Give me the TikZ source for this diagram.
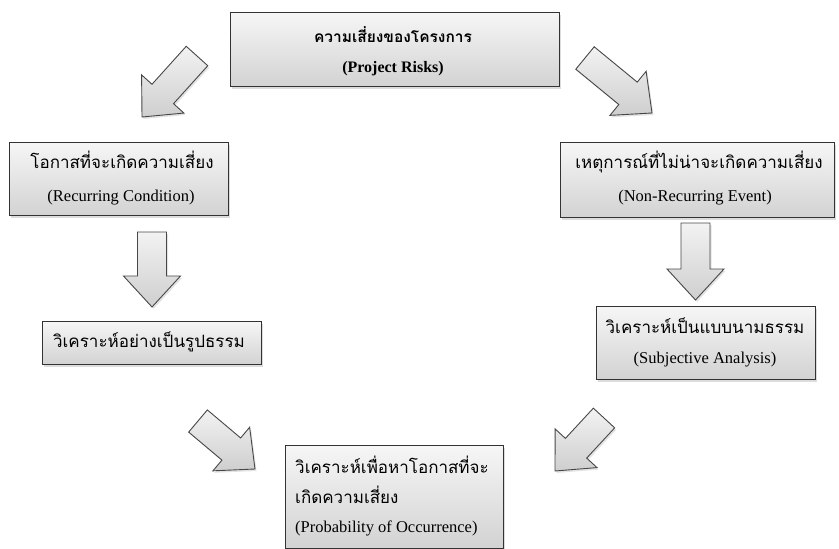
\documentclass[tikz,border=0pt]{standalone}
\usepackage{fontspec}
\setmainfont{Liberation Serif}
\newfontfamily\thai[Script=Thai]{Loma}
\usetikzlibrary{calc,shadows}

% block arrow geometry
\newcommand\ArrShaft{14.5pt}
\newcommand\ArrHeadW{28.5pt}
\newcommand\ArrHeadL{31pt}

% \blockarrow{name}{(tail centre)}{(tip)}
\newcommand\blockarrow[3]{%
  \coordinate (#1-t) at #2;
  \coordinate (#1-p) at #3;
  \coordinate (#1-h) at ($(#1-p)!\ArrHeadL!(#1-t)$);
  \draw[arrowbody]
    ($(#1-t)!\ArrShaft!90:(#1-p)$) --
    ($(#1-h)!\ArrShaft!90:(#1-p)$) --
    ($(#1-h)!\ArrHeadW!90:(#1-p)$) --
    (#1-p) --
    ($(#1-h)!\ArrHeadW!-90:(#1-p)$) --
    ($(#1-h)!\ArrShaft!-90:(#1-p)$) --
    ($(#1-t)!\ArrShaft!-90:(#1-p)$) -- cycle;
}

\begin{document}
\begin{tikzpicture}[x=1pt,y=-1pt,
  box/.style={draw=black!80, line width=0.9pt, top color=gray!7, bottom color=gray!35,
    inner sep=0pt, anchor=north west,
    drop shadow={opacity=0.28, shadow xshift=2pt, shadow yshift=-2.5pt}},
  arrowbody/.style={draw=black!72, line width=0.9pt, line join=miter,
    top color=gray!10, bottom color=gray!38,
    drop shadow={opacity=0.22, shadow xshift=1.5pt, shadow yshift=-2pt}},
  th/.style={font=\thai\fontsize{17}{20}\selectfont, anchor=base, inner sep=0pt},
  en/.style={font=\fontsize{16.5}{19}\selectfont, anchor=base, inner sep=0pt}]
\useasboundingbox (0,0) rectangle (839,549);

% boxes
\node[box, minimum width=329pt, minimum height=74pt] (risk) at (230,12) {};
\node[box, minimum width=219pt, minimum height=73pt] (rec) at (9,142) {};
\node[box, minimum width=274pt, minimum height=75pt] (nonrec) at (560,142) {};
\node[box, minimum width=219pt, minimum height=43pt] (obj) at (42,321) {};
\node[box, minimum width=219pt, minimum height=73pt] (subj) at (596,306) {};
\node[box, minimum width=218pt, minimum height=103pt] (prob) at (285,445) {};

% box texts
\node[th, font=\thai\bfseries\fontsize{15.5}{18}\selectfont] (risk-th) at (393,42) {ความเสี่ยงของโครงการ};
\node[en, font=\bfseries\fontsize{16}{19}\selectfont] (risk-en) at (393,72) {(Project Risks)};

\node[th] (rec-th) at (122,168) {โอกาสที่จะเกิดความเสี่ยง};
\node[en] (rec-en) at (121,201) {(Recurring Condition)};

\node[th] (nonrec-th) at (699,168) {เหตุการณ์ที่ไม่น่าจะเกิดความเสี่ยง};
\node[en] (nonrec-en) at (695,201) {(Non-Recurring Event)};

\node[th] (obj-th) at (149,347) {วิเคราะห์อย่างเป็นรูปธรรม};

\node[th] (subj-th) at (705,333) {วิเคราะห์เป็นแบบนามธรรม};
\node[en] (subj-en) at (705,363) {(Subjective Analysis)};

\node[th, anchor=base west] (prob-th1) at (295,473) {วิเคราะห์เพื่อหาโอกาสที่จะ};
\node[th, anchor=base west] (prob-th2) at (295,503) {เกิดความเสี่ยง};
\node[en, anchor=base west] (prob-en) at (295,532) {(Probability of Occurrence)};

% block arrows
\blockarrow{a1}{(197,56)}{(142,117)}
\blockarrow{a2}{(585,58)}{(652,113)}
\blockarrow{a3}{(152,232)}{(152,307)}
\blockarrow{a4}{(695.5,223)}{(695.5,300)}
\blockarrow{a5}{(198,421)}{(255,469)}
\blockarrow{a6}{(604,418)}{(555,471)}
\end{tikzpicture}
\end{document}
